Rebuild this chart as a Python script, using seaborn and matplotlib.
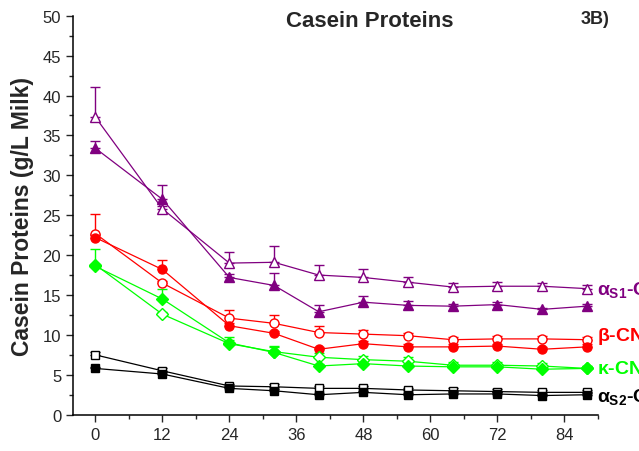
import matplotlib
matplotlib.use("Agg")
import matplotlib.pyplot as plt
from matplotlib.ticker import MultipleLocator
import seaborn as sns
import numpy as np

# ---- data ----
hours = [0, 12, 24, 32, 40, 48, 56, 64, 72, 80, 88]

as1_open = [37.3, 25.8, 19.0, 19.1, 17.5, 17.2, 16.6, 16.0, 16.1, 16.1, 15.8]
as1_open_err = [3.8, 0.4, 1.4, 2.0, 1.3, 1.0, 0.7, 0.5, 0.5, 0.4, 0.4]
as1_fill = [33.4, 27.0, 17.2, 16.2, 12.9, 14.1, 13.7, 13.6, 13.8, 13.2, 13.6]
as1_fill_err = [0.9, 1.8, 0.4, 1.6, 0.8, 0.8, 0.6, 0.3, 0.3, 0.2, 0.3]

beta_open = [22.7, 16.5, 12.1, 11.45, 10.3, 10.1, 9.9, 9.4, 9.5, 9.5, 9.4]
beta_open_err = [2.5, 0.3, 1.0, 1.0, 0.8, 0.5, 0.3, 0.4, 0.4, 0.4, 0.4]
beta_fill = [22.2, 18.2, 11.15, 10.2, 8.2, 8.9, 8.5, 8.5, 8.6, 8.2, 8.5]
beta_fill_err = [0.3, 1.2, 0.3, 0.3, 0.3, 0.3, 0.3, 0.3, 0.3, 0.3, 0.3]

kappa_open = [18.8, 12.6, 8.9, 7.9, 7.2, 6.9, 6.7, 6.2, 6.2, 6.1, 5.8]
kappa_open_err = [2.0, 0.3, 0.5, 0.6, 0.5, 0.5, 0.5, 0.4, 0.4, 0.4, 0.3]
kappa_fill = [18.6, 14.5, 9.0, 7.8, 6.1, 6.4, 6.1, 6.0, 6.0, 5.7, 5.8]
kappa_fill_err = [0.3, 1.2, 0.7, 0.8, 0.3, 0.3, 0.3, 0.3, 0.3, 0.3, 0.3]

as2_open = [7.5, 5.5, 3.6, 3.5, 3.3, 3.3, 3.1, 3.0, 2.9, 2.8, 2.8]
as2_open_err = [0.3, 0.3, 0.3, 0.3, 0.3, 0.3, 0.3, 0.3, 0.3, 0.3, 0.3]
as2_fill = [5.8, 5.1, 3.3, 3.0, 2.5, 2.8, 2.5, 2.6, 2.6, 2.4, 2.5]
as2_fill_err = [0.2, 0.2, 0.2, 0.2, 0.2, 0.2, 0.2, 0.2, 0.2, 0.2, 0.2]

purple = "#800080"
red = "#ff0000"
green = "#00ff00"
black = "#000000"

series = [
    (as1_open, as1_open_err, purple, "^", True, 7.5),
    (as1_fill, as1_fill_err, purple, "^", False, 7.5),
    (beta_open, beta_open_err, red, "o", True, 6.5),
    (beta_fill, beta_fill_err, red, "o", False, 6.5),
    (kappa_open, kappa_open_err, green, "D", True, 6),
    (kappa_fill, kappa_fill_err, green, "D", False, 6),
    (as2_open, as2_open_err, black, "s", True, 5.5),
    (as2_fill, as2_fill_err, black, "s", False, 5.5),
]

# label text, baseline value, colour
labels = [
    (r"$\alpha_{S1}$-CN", 15.1, purple),
    (r"$\beta$-CN", 9.3, red),
    (r"$\kappa$-CN", 5.2, green),
    (r"$\alpha_{S2}$-CN", 1.75, black),
]

# ---- style ----
sns.set_style("ticks")
plt.rcParams["font.family"] = ["Liberation Sans", "DejaVu Sans"]
plt.rcParams["mathtext.fontset"] = "custom"
plt.rcParams["mathtext.rm"] = "Liberation Sans:bold"
plt.rcParams["mathtext.it"] = "Liberation Sans:bold"
plt.rcParams["mathtext.bf"] = "Liberation Sans:bold"

fig = plt.figure(figsize=(6.39, 4.52), dpi=100)
ax = fig.add_axes([0.1142, 0.0803, 0.8216, 0.8827])

for y, err, c, m, is_open, ms in series:
    y = np.asarray(y)
    err = np.asarray(err)
    ax.errorbar(hours, y, yerr=[np.zeros_like(err), err], fmt="none",
                ecolor=c, elinewidth=1, capsize=3.5, capthick=1, zorder=2)
    sns.lineplot(x=hours, y=y, ax=ax, color=c, linewidth=0.9, marker=m,
                 markersize=ms,
                 markerfacecolor="white" if is_open else c,
                 markeredgecolor=c, markeredgewidth=1.0, zorder=3)

for text, yv, c in labels:
    ax.text(89.8, yv, text, color=c, fontsize=14, fontweight="bold",
            ha="left", va="baseline", clip_on=False)

ax.set_xlim(-4, 90)
ax.set_ylim(0, 50)
ax.xaxis.set_major_locator(MultipleLocator(12))
ax.xaxis.set_minor_locator(MultipleLocator(6))
ax.yaxis.set_major_locator(MultipleLocator(5))
ax.yaxis.set_minor_locator(MultipleLocator(2.5))
ax.tick_params(which="major", direction="out", length=5, width=1, labelsize=12)
ax.tick_params(which="minor", direction="out", length=3, width=1)
sns.despine(ax=ax)
for s in ["left", "bottom"]:
    ax.spines[s].set_linewidth(1.1)
    ax.spines[s].set_color("black")

ax.set_ylabel("Casein Proteins (g/L Milk)", fontsize=16.5, fontweight="bold",
              labelpad=6)
ax.set_xlabel("")

fig.text(370 / 639, 1 - 21.7 / 452, "Casein Proteins", fontsize=16,
         fontweight="bold", ha="center", va="center")
fig.text(595 / 639, 1 - 20 / 452, "3B)", fontsize=13, fontweight="bold",
         ha="center", va="center")

fig.savefig("out.png", dpi=100)
